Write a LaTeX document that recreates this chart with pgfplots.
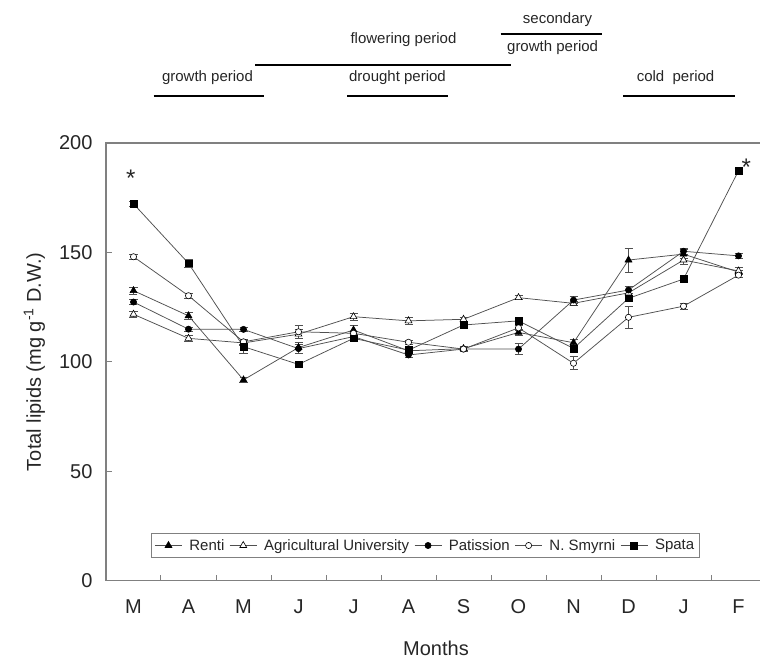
\documentclass[border=0pt]{standalone}
\usepackage{fontspec}
\setmainfont{Liberation Sans}
\usepackage{pgfplots}
\pgfplotsset{compat=1.18}
\usepackage{pgfplotstable}

\definecolor{lc}{HTML}{505050}
\definecolor{axc}{HTML}{808080}
\definecolor{txt}{HTML}{262626}

\pgfplotstableread{
x y e
0 132.5 1.5
1 121.0 1.5
2 91.7 1.2
3 106.5 2.5
4 114.5 2.0
5 105.0 1.5
6 106.0 1.0
7 113.4 1.5
8 108.7 1.5
9 146.5 5.5
10 149.2 2.0
11 141.0 1.0
}\renti

\pgfplotstableread{
x y e
0 121.7 1.2
1 110.7 1.2
2 108.6 1.0
3 112.6 2.0
4 120.6 1.5
5 118.7 1.5
6 119.4 1.0
7 129.3 1.0
8 126.7 1.0
9 131.5 1.0
10 146.5 2.0
11 141.5 1.5
}\agri

\pgfplotstableread{
x y e
0 127.3 1.0
1 114.9 1.0
2 114.8 1.0
3 106.0 2.0
4 111.5 1.0
5 103.1 1.0
6 105.8 1.0
7 105.8 2.5
8 128.2 1.5
9 132.8 1.5
10 150.5 1.5
11 148.4 1.0
}\patission

\pgfplotstableread{
x y e
0 148.0 1.0
1 130.2 1.0
2 109.1 1.0
3 113.7 3.0
4 113.0 1.0
5 108.9 1.0
6 105.8 1.0
7 115.5 1.0
8 99.3 3.0
9 120.3 5.0
10 125.4 1.5
11 139.6 1.0
}\smyrni

\pgfplotstableread{
x y e
0 172.2 1.0
1 145.0 2.0
2 106.9 3.0
3 98.8 1.0
4 110.7 1.0
5 105.3 1.0
6 116.8 1.0
7 118.7 1.0
8 106.1 1.0
9 129.0 1.5
10 137.8 1.0
11 187.3 1.0
}\spata

\begin{document}
\begin{tikzpicture}
\begin{axis}[
  scale only axis,
  width=660bp, height=437.5bp,
  xmin=-0.5, xmax=11.5, ymin=0, ymax=200,
  clip=false,
  axis line style={draw=axc, line width=1.1bp},
  tick style={draw=axc, line width=1bp},
  tick align=inside,
  major tick length=6bp,
  xtick={-0.5,0.5,...,11.5},
  xticklabels={M,A,M,J,J,A,S,O,N,D,J,F},
  x tick label as interval,
  xtick pos=bottom,
  ytick={0,50,100,150,200},
  ytick pos=left,
  /pgf/number format/assume math mode=true,
  ticklabel style={font=\fontsize{20bp}{23bp}\selectfont, text=txt},
  xticklabel style={yshift=-16bp},
  yticklabel style={xshift=-10bp},
  xlabel={Months},
  xlabel style={font=\fontsize{20bp}{24bp}\selectfont, text=txt, at={(axis description cs:0.5,0)}, anchor=center, yshift=-67.5bp},
  ylabel={Total lipids (mg g\textsuperscript{-1} D.W.)},
  ylabel style={font=\fontsize{20bp}{24bp}\selectfont, text=txt, at={(axis description cs:-0.087,0.5)}, anchor=south},
  legend columns=5,
  legend style={at={(rel axis cs:0.484,0.08)}, anchor=center, draw=axc, line width=1bp,
    font=\fontsize{15bp}{18bp}\selectfont, text=txt, inner xsep=3bp, inner ysep=3.5bp,
    /tikz/every even column/.append style={column sep=3bp},
    /tikz/every odd column/.append style={column sep=5bp}},
  legend image code/.code={
    \draw[#1] (0bp,0bp) -- (27bp,0bp);
    \draw[#1, mark repeat=1] plot coordinates {(13.5bp,0bp)};
  },
  every axis plot/.append style={line width=0.75bp},
]
\addplot[color=lc, mark=triangle*, mark size=4bp, mark options={solid, draw=black, fill=black, line width=0.6bp},
  error bars/.cd, y dir=both, y explicit, error bar style={color=lc, line width=0.7bp}, error mark options={rotate=90, color=lc, mark size=4bp, line width=0.7bp}]
  table[x=x, y=y, y error=e] {\renti};
\addlegendentry{Renti}
\addplot[color=lc, mark=triangle*, mark size=4bp, mark options={solid, draw=black, fill=white, line width=0.6bp},
  error bars/.cd, y dir=both, y explicit, error bar style={color=lc, line width=0.7bp}, error mark options={rotate=90, color=lc, mark size=4bp, line width=0.7bp}]
  table[x=x, y=y, y error=e] {\agri};
\addlegendentry{Agricultural University}
\addplot[color=lc, mark=*, mark size=3.1bp, mark options={solid, draw=black, fill=black, line width=0.6bp},
  error bars/.cd, y dir=both, y explicit, error bar style={color=lc, line width=0.7bp}, error mark options={rotate=90, color=lc, mark size=4bp, line width=0.7bp}]
  table[x=x, y=y, y error=e] {\patission};
\addlegendentry{Patission}
\addplot[color=lc, mark=*, mark size=3.1bp, mark options={solid, draw=black, fill=white, line width=0.6bp},
  error bars/.cd, y dir=both, y explicit, error bar style={color=lc, line width=0.7bp}, error mark options={rotate=90, color=lc, mark size=4bp, line width=0.7bp}]
  table[x=x, y=y, y error=e] {\smyrni};
\addlegendentry{N. Smyrni}
\addplot[color=lc, mark=square*, mark size=3.4bp, mark options={solid, draw=black, fill=black, line width=0.6bp},
  error bars/.cd, y dir=both, y explicit, error bar style={color=lc, line width=0.7bp}, error mark options={rotate=90, color=lc, mark size=4bp, line width=0.7bp}]
  table[x=x, y=y, y error=e] {\spata};
\addlegendentry{Spata}

% significance marks
\node[font=\fontsize{24bp}{28bp}\selectfont, text=txt] at (axis cs:-0.05,184) {*};
\node[font=\fontsize{24bp}{28bp}\selectfont, text=txt] at (axis cs:11.14,189) {*};

% period annotations
\begin{scope}[font=\fontsize{15bp}{18bp}\selectfont, text=txt]
\draw[black, line width=1.3bp] (axis cs:0.364,221.5) -- (axis cs:2.364,221.5);
\node at (axis cs:1.345,229.7) {growth period};
\draw[black, line width=1.3bp] (axis cs:2.218,235.7) -- (axis cs:6.855,235.7);
\node at (axis cs:4.909,247.1) {flowering period};
\draw[black, line width=1.3bp] (axis cs:3.89,221.5) -- (axis cs:5.727,221.5);
\node at (axis cs:4.8,229.7) {drought period};
\draw[black, line width=1.3bp] (axis cs:6.673,249.8) -- (axis cs:8.527,249.8);
\node at (axis cs:7.71,256.2) {secondary};
\node at (axis cs:7.62,243.4) {growth period};
\draw[black, line width=1.3bp] (axis cs:8.909,221.5) -- (axis cs:10.945,221.5);
\node at (axis cs:9.855,229.7) {cold\ \ period};
\end{scope}
\end{axis}
\pgfresetboundingbox
\useasboundingbox (-106bp,-78.5bp) rectangle (654bp,580.5bp);
\end{tikzpicture}
\end{document}
